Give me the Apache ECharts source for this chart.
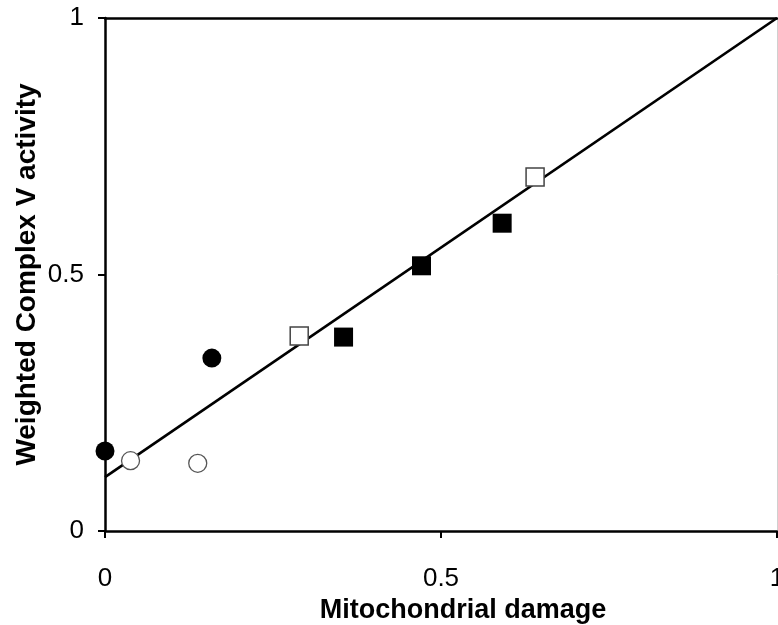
<!DOCTYPE html>
<html>
<head>
<meta charset="utf-8">
<script src="https://cdn.jsdelivr.net/npm/echarts@6/dist/echarts.min.js"></script>
<style>
  html, body { margin: 0; padding: 0; background: #fff; }
  #chart { width: 778px; height: 625px; }
</style>
</head>
<body>
<div id="chart"></div>
<script>
// data
const filledCircles = [[0.0, 0.156], [0.159, 0.337]]
const openCircles = [[0.038, 0.137], [0.138, 0.132]]
const filledSquares = [[0.355, 0.378], [0.471, 0.517], [0.591, 0.600]]
const openSquares = [[0.289, 0.380], [0.640, 0.690]]
// regression line end points
const fitLine = [[0, 0.105], [1, 1.0]]
const tickValues = [0, 0.5, 1]

const chart = echarts.init(document.getElementById('chart'))

const font = 'Liberation Sans, Arial, sans-serif'

const option = {
  animation: false,
  backgroundColor: '#fff',
  grid: { left: 105, right: 1, top: 18, bottom: 94, outerBoundsMode: 'none', containLabel: false },
  xAxis: [
    {
      type: 'value',
      min: 0,
      max: 1,
      interval: 0.5,
      position: 'bottom',
      name: 'Mitochondrial damage',
      nameLocation: 'middle',
      nameGap: 66,
      nameMoveOverlap: false,
      nameTextStyle: {
        fontFamily: font,
        fontSize: 27,
        fontWeight: 'bold',
        color: '#000',
        padding: [0, 0, 0, 44] // title sits a bit right of centre
      },
      axisLine: { show: true, onZero: false, lineStyle: { color: '#000', width: 2.5 } },
      axisTick: { show: true, length: 7, lineStyle: { color: '#000', width: 2 } },
      axisLabel: {
        margin: 35,
        fontFamily: font,
        fontSize: 26,
        color: '#000',
        formatter: v => (tickValues.indexOf(v) >= 0 ? String(v) : '')
      },
      splitLine: { show: false }
    },
    {
      type: 'value',
      min: 0,
      max: 1,
      position: 'top',
      axisLine: { show: true, onZero: false, lineStyle: { color: '#000', width: 2.5 } },
      axisTick: { show: false },
      axisLabel: { show: false },
      splitLine: { show: false }
    }
  ],
  yAxis: [
    {
      type: 'value',
      min: 0,
      max: 1,
      interval: 0.5,
      position: 'left',
      name: 'Weighted Complex V activity',
      nameLocation: 'middle',
      nameGap: 64,
      nameMoveOverlap: false,
      nameTextStyle: { fontFamily: font, fontSize: 28, fontWeight: 'bold', color: '#000' },
      axisLine: { show: true, onZero: false, lineStyle: { color: '#000', width: 2.5 } },
      axisTick: { show: true, length: 7, lineStyle: { color: '#000', width: 2 } },
      axisLabel: {
        margin: 21,
        fontFamily: font,
        fontSize: 26,
        color: '#000',
        formatter: v => (tickValues.indexOf(v) >= 0 ? String(v) : '')
      },
      splitLine: { show: false }
    },
    {
      type: 'value',
      min: 0,
      max: 1,
      position: 'right',
      axisLine: { show: true, onZero: false, lineStyle: { color: '#d0d0d0', width: 1 } },
      axisTick: { show: false },
      axisLabel: { show: false },
      splitLine: { show: false }
    }
  ],
  series: [
    {
      type: 'line',
      data: fitLine,
      showSymbol: false,
      lineStyle: { color: '#000', width: 2.7 },
      z: 1
    },
    {
      type: 'scatter',
      data: filledCircles,
      symbol: 'circle',
      symbolSize: 19,
      itemStyle: { color: '#000', opacity: 1 },
      z: 3
    },
    {
      type: 'scatter',
      data: openCircles,
      symbol: 'circle',
      symbolSize: 18,
      itemStyle: { color: '#fff', borderColor: '#555', borderWidth: 1.3, opacity: 1 },
      z: 3
    },
    {
      type: 'scatter',
      data: filledSquares,
      symbol: 'rect',
      symbolSize: 19,
      itemStyle: { color: '#000', opacity: 1 },
      z: 3
    },
    {
      type: 'scatter',
      data: openSquares,
      symbol: 'rect',
      symbolSize: 18,
      itemStyle: { color: '#fff', borderColor: '#444', borderWidth: 1.5, opacity: 1 },
      z: 3
    }
  ]
}

chart.setOption(option)
</script>
</body>
</html>
